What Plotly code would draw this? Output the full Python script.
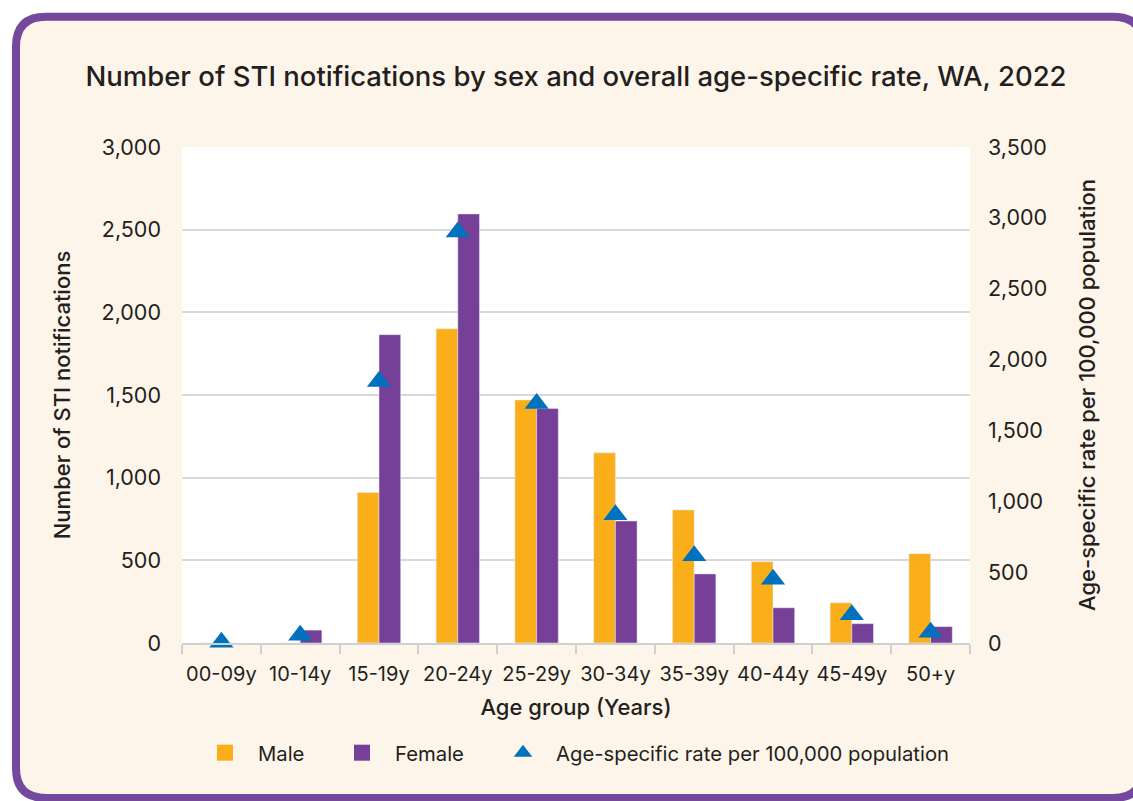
import plotly.graph_objects as go

# ---------------- data ----------------
age_groups = ["00-09y", "10-14y", "15-19y", "20-24y", "25-29y",
              "30-34y", "35-39y", "40-44y", "45-49y", "50+y"]
male = [0, 0, 910, 1900, 1470, 1150, 805, 492, 243, 540]
female = [0, 78, 1865, 2595, 1418, 738, 418, 213, 117, 99]
rate = [5, 55, 1845, 2900, 1690, 905, 615, 450, 200, 75]

left_ticks = [0, 500, 1000, 1500, 2000, 2500, 3000]
right_ticks = [0, 500, 1000, 1500, 2000, 2500, 3000, 3500]

# ---------------- style ----------------
W, H = 1133, 801
L, R, T, B = 182, 970, 147, 643
FONT = "Inter"
TXT = "#231F20"
ORANGE = "#F9AE1A"
PURPLE = "#763F98"
BLUE = "#0071BC"
CREAM = "#FDF5E9"
BORDER = "#74489D"
GRID = "#D9D9D9"


def px(x):
    return (x - L) / (R - L)


def py(y):
    return (B - y) / (B - T)


def card_path(x0, y0, x1, y1, r):
    pts = [
        ("M", [(x0 + r, y0)]),
        ("L", [(x1 - r, y0)]),
        ("Q", [(x1, y0), (x1, y0 + r)]),
        ("L", [(x1, y1 - r)]),
        ("Q", [(x1, y1), (x1 - r, y1)]),
        ("L", [(x0 + r, y1)]),
        ("Q", [(x0, y1), (x0, y1 - r)]),
        ("L", [(x0, y0 + r)]),
        ("Q", [(x0, y0), (x0 + r, y0)]),
    ]
    s = ""
    for cmd, ps in pts:
        s += cmd + " ".join(f"{px(a):.5f},{py(b):.5f}" for a, b in ps) + " "
    return s + "Z"


fig = go.Figure()

fig.add_trace(go.Bar(x=age_groups, y=male, name="Male", marker_color=ORANGE,
                     showlegend=False))
fig.add_trace(go.Bar(x=age_groups, y=female, name="Female", marker_color=PURPLE,
                     showlegend=False))
fig.add_trace(go.Scatter(x=age_groups, y=rate, yaxis="y2", mode="markers",
                         name="Age-specific rate per 100,000 population",
                         marker=dict(symbol="triangle-up", size=21, color=BLUE),
                         cliponaxis=False, legend="legend3"))

# legend-only entries for the bars (larger square swatches)
fig.add_trace(go.Scatter(x=[None], y=[None], mode="markers", name="Male",
                         marker=dict(symbol="square", size=22, color=ORANGE),
                         legend="legend"))
fig.add_trace(go.Scatter(x=[None], y=[None], mode="markers", name="Female",
                         marker=dict(symbol="square", size=22, color=PURPLE),
                         legend="legend2"))

legend_common = dict(orientation="h", yanchor="middle", y=py(753),
                     xanchor="left", bgcolor="rgba(0,0,0,0)",
                     font=dict(family=FONT, size=20.3, color=TXT),
                     itemwidth=56)

TICKSZ = 21.5
TITLESZ = 22

fig.update_layout(
    width=W, height=H,
    margin=dict(l=L, r=W - R, t=T, b=H - B, pad=0),
    paper_bgcolor="white",
    plot_bgcolor="white",
    barmode="group",
    bargap=0.45,
    bargroupgap=0,
    font=dict(family=FONT, color=TXT),
    title=dict(text="Number of STI notifications by sex and overall age-specific rate, WA, 2022",
               x=0.5, xref="paper", xanchor="center",
               y=1 - 76 / H, yref="container", yanchor="middle",
               font=dict(family=FONT, size=27.5, color=TXT, weight=500)),
    xaxis=dict(
        categoryorder="array", categoryarray=age_groups,
        range=[-0.5, len(age_groups) - 0.5], autorange=False,
        showline=True, linecolor="#D0D0D0", linewidth=2,
        ticks="outside", tickson="boundaries", ticklen=9, tickcolor="#D0D0D0",
        tickwidth=2, ticklabelstandoff=12, tickangle=0,
        tickfont=dict(family=FONT, size=20, color=TXT),
        title=dict(text="Age group (Years)", standoff=15,
                   font=dict(family=FONT, size=TITLESZ, color=TXT, weight=500)),
        showgrid=False, zeroline=False,
    ),
    yaxis=dict(
        range=[0, 3000], tickvals=left_ticks, tickformat=",",
        showgrid=True, gridcolor=GRID, gridwidth=1.5, zeroline=False,
        ticks="", ticklabelstandoff=20,
        tickfont=dict(family=FONT, size=TICKSZ, color=TXT),
        title=dict(text="Number of STI notifications", standoff=24,
                   font=dict(family=FONT, size=TITLESZ, color=TXT, weight=500)),
    ),
    yaxis2=dict(
        range=[0, 3500], tickvals=right_ticks, tickformat=",",
        overlaying="y", side="right", showgrid=False, zeroline=False,
        ticks="", ticklabelstandoff=17,
        tickfont=dict(family=FONT, size=TICKSZ, color=TXT),
        title=dict(text="Age-specific rate per 100,000 population", standoff=33,
                   font=dict(family=FONT, size=TITLESZ, color=TXT, weight=500)),
    ),
    legend=dict(legend_common, x=px(192)),
    legend2=dict(legend_common, x=px(329)),
    legend3=dict(legend_common, x=px(490)),
    shapes=[
        dict(type="path", xref="paper", yref="paper", layer="below",
             path=card_path(16, 16.7, 1143, 798, 30),
             fillcolor=CREAM, line=dict(color=BORDER, width=8)),
        dict(type="rect", xref="paper", yref="paper", layer="below",
             x0=0, x1=1, y0=0, y1=1, fillcolor="white", line=dict(width=0)),
    ],
)

fig.write_html("out.html", config={"displayModeBar": False},
               post_script="document.body.style.margin='0';")
